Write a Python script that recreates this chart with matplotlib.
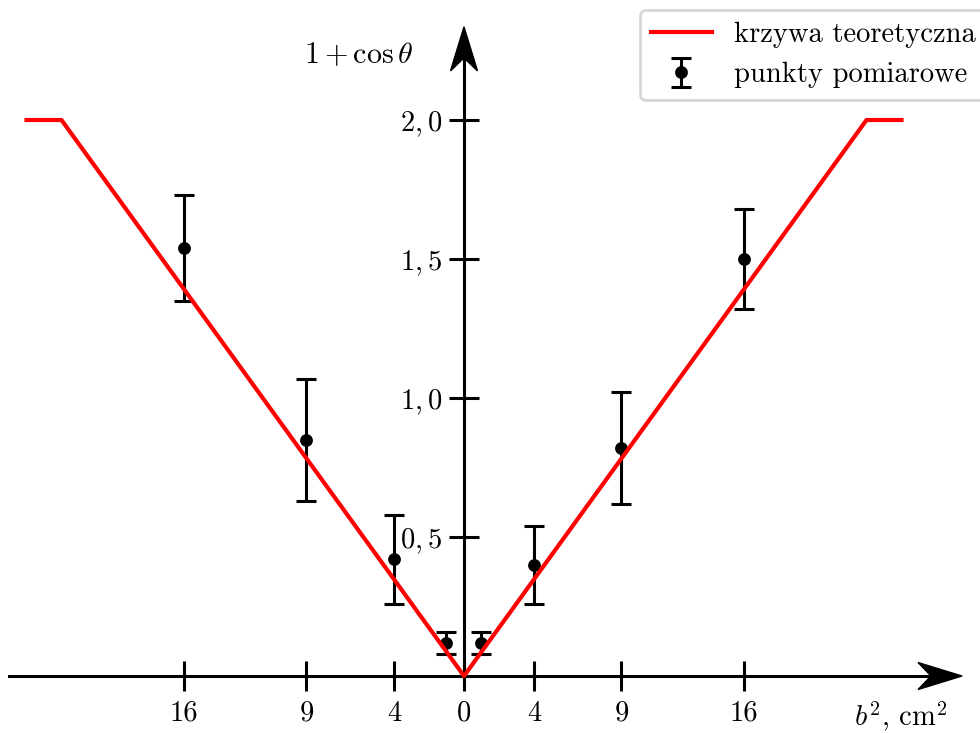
import matplotlib
matplotlib.use("Agg")
import matplotlib.pyplot as plt
import matplotlib.transforms as mtransforms
from matplotlib.patches import Polygon

FS = 10.3
plt.rcParams["font.family"] = "cmr10"
plt.rcParams["mathtext.fontset"] = "cm"
plt.rcParams["axes.unicode_minus"] = False
plt.rcParams["axes.formatter.use_mathtext"] = True
plt.rcParams["font.size"] = FS

# Theoretical curve (signed b^2 on the horizontal axis)
theory_x = [-25, -23, 0, 23, 25]
theory_y = [2.0, 2.0, 0.0, 2.0, 2.0]

# Measured points with uncertainties
meas_x = [-16, -9, -4, -1, 1, 4, 9, 16]
meas_y = [1.54, 0.85, 0.42, 0.12, 0.12, 0.40, 0.82, 1.50]
meas_err = [0.19, 0.22, 0.16, 0.04, 0.04, 0.14, 0.20, 0.18]

# Axis ticks
x_ticks = [-16, -9, -4, 0, 4, 9, 16]
x_tick_labels = ["16", "9", "4", "0", "4", "9", "16"]
y_ticks = [0.5, 1.0, 1.5, 2.0]
y_tick_labels = [r"$0,5$", r"$1,0$", r"$1,5$", r"$2,0$"]

DPI = 200
fig = plt.figure(figsize=(980 / DPI, 733 / DPI), dpi=DPI)
ax = fig.add_axes([0, 0, 1, 1])
ax.set_xlim(-26.514, 29.486)
ax.set_ylim(-0.205, 2.4317)
ax.patch.set_visible(False)

ax.plot(theory_x, theory_y, color="red", lw=1.5, zorder=3,
        label="krzywa teoretyczna")
ax.errorbar(meas_x, meas_y, yerr=meas_err, fmt="o", color="black",
            ms=3.6, capsize=3.6, elinewidth=1.1, capthick=1.1, zorder=2,
            label="punkty pomiarowe")

# Axes crossing at the origin
for side in ("top", "right"):
    ax.spines[side].set_visible(False)
ax.spines["bottom"].set_position(("data", 0))
ax.spines["left"].set_position(("data", 0))
ax.spines["bottom"].set_bounds(-26.0, 27.8)
ax.spines["left"].set_bounds(0, 2.28)
for side in ("bottom", "left"):
    ax.spines[side].set_linewidth(1.1)
    ax.spines[side].set_zorder(1)

ax.set_xticks(x_ticks, x_tick_labels)
ax.set_yticks(y_ticks, y_tick_labels)
ax.tick_params(axis="both", direction="inout", length=10.8, width=1.1,
               labelsize=FS)
ax.tick_params(axis="x", pad=3.4)
ax.tick_params(axis="y", pad=2.5)

# Arrowheads at the ends of both axes (pixel offsets from the tip)
def arrow_head(tip, direction):
    L, W, N = 44, 13.5, 31
    if direction == "right":
        verts = [(0, 0), (-L, W), (-N, 0), (-L, -W)]
    else:
        verts = [(0, 0), (-W, -L), (0, -N), (W, -L)]
    tr = mtransforms.ScaledTranslation(tip[0], tip[1], ax.transData)
    ax.add_patch(Polygon(verts, closed=True, facecolor="black",
                         edgecolor="black", lw=0.5,
                         transform=mtransforms.IdentityTransform() + tr,
                         clip_on=False, zorder=4))

arrow_head((28.46, 0), "right")
arrow_head((0, 2.335), "up")

ax.text(0.366, 0.925, r"$1+\cos\theta$", transform=ax.transAxes,
        ha="center", va="center", fontsize=10.8)
ax.text(0.919, 0.022, r"$b^2$, cm$^2$", transform=ax.transAxes,
        ha="center", va="center", fontsize=FS)

leg = ax.legend(loc="upper left", bbox_to_anchor=(640 / 980, 1 - 10 / 733),
                bbox_transform=fig.transFigure, borderaxespad=0,
                handlelength=2.1, fontsize=FS)
leg.set_zorder(5)

fig.savefig("out.png", dpi=DPI)
